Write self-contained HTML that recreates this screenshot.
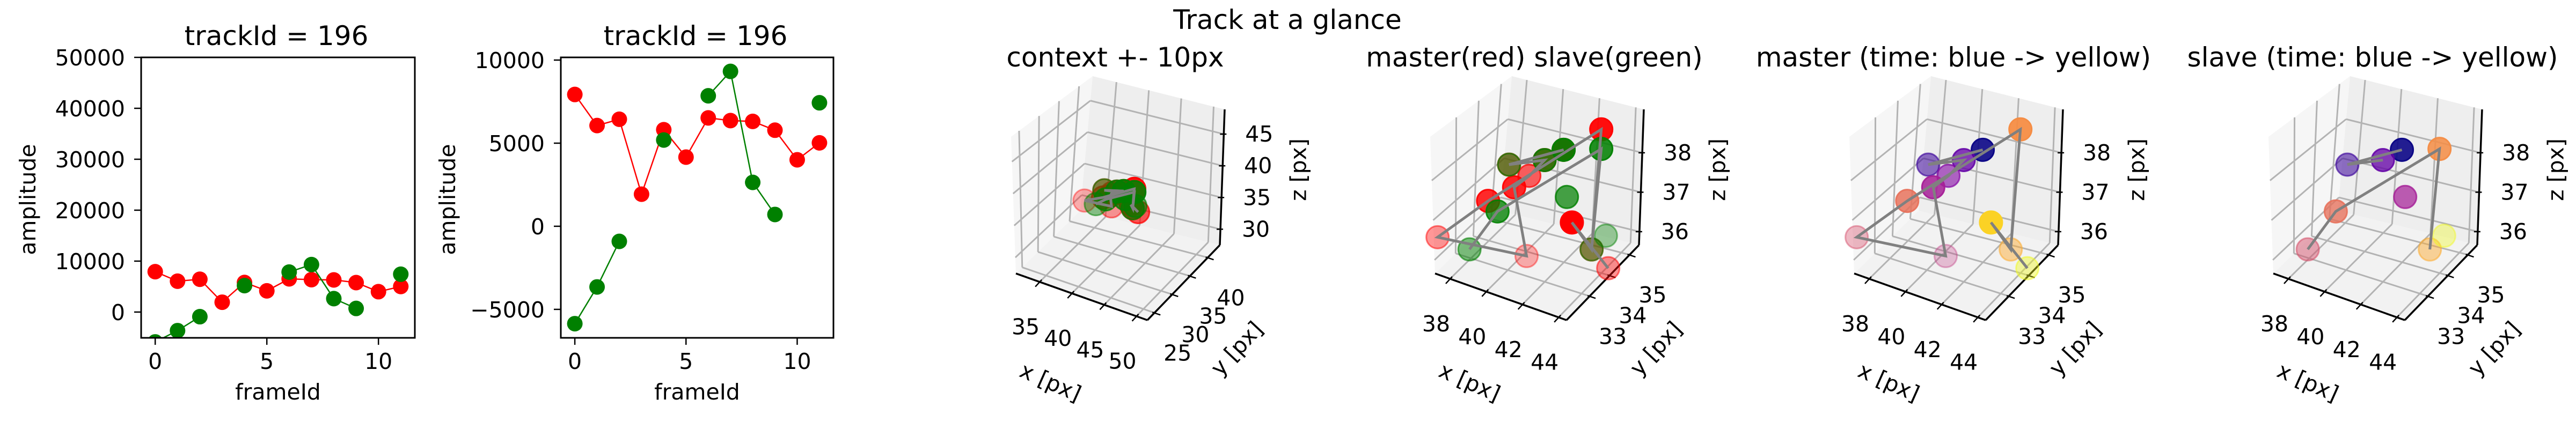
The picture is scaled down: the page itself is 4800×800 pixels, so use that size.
<!DOCTYPE html>
<html><head><meta charset="utf-8"><style>
html,body{margin:0;padding:0;background:#fff;}
svg{display:block;}
text{font-family:"DejaVu Sans","Liberation Sans",sans-serif;fill:#000;}
</style></head><body>
<svg id="fig" xmlns="http://www.w3.org/2000/svg" width="4800" height="800" viewBox="0 0 4800 800">
<rect width="4800" height="800" fill="#fff"/>
<text x="2399" y="54" font-size="50" text-anchor="middle">Track at a glance</text>
</svg>
<script>
// ---- 2D amplitude data ----
const frames = [0,1,2,3,4,5,6,7,8,9,10,11];
const masterAmp = [7930,6060,6440,1930,5810,4160,6520,6360,6310,5780,4000,5020];
const slaveAmp = [-5860,-3650,-910,null,5190,null,7850,9320,2640,710,null,7430];
const xTicks2d = [0,5,10];
const yTicksA = [0,10000,20000,30000,40000,50000];
const yTicksB = [-5000,0,5000,10000];
// ---- 3D track data (px) ----
const masterX = [42.20,39.29,41.19,40.39,40.79,40.53,37.26,40.00,43.39,43.43,43.91,44.15];
const masterY = [33.66,33.66,33.66,33.66,32.57,33.47,31.95,32.02,34.38,34.02,32.57,34.20];
const masterZ = [38.70,37.92,38.30,37.79,38.07,35.87,36.54,37.86,39.02,36.17,37.66,35.70];
const slaveX = [42.20,39.29,41.19,null,42.43,null,38.93,40.30,43.42,43.43,null,43.43];
const slaveY = [33.66,33.66,33.66,null,33.66,null,32.02,32.20,34.38,34.02,null,34.74];
const slaveZ = [38.70,37.92,38.30,null,37.54,null,36.47,37.56,38.53,36.17,null,36.15];
const ctxTicksX = [35,40,45,50], ctxTicksY = [25,30,35,40], ctxTicksZ = [30,35,40,45];
const zmTicksX = [38,40,42,44], zmTicksY = [33,34,35], zmTicksZ = [36,37,38];

const NS = "http://www.w3.org/2000/svg";
const svg = document.getElementById('fig');
function el(tag, attrs, parent){const e=document.createElementNS(NS,tag);for(const k in attrs)e.setAttribute(k,attrs[k]);(parent||svg).appendChild(e);return e;}

// ---------- 2D panels ----------
function panel2d(idx, left, right, ylo, yhi, yTicks, titleX){
  const top=107, bottom=630, xlo=-0.63, xhi=11.63;
  const sx=v=>left+(v-xlo)/(xhi-xlo)*(right-left);
  const sy=v=>bottom-(v-ylo)/(yhi-ylo)*(bottom-top);
  const g=el('g',{});
  
  
  const cp=el('clipPath',{id:'clip'+idx},g);
  el('rect',{x:left,y:top,width:right-left,height:bottom-top},cp);
  const t=el('text',{x:titleX,y:84,'font-size':50,'text-anchor':'middle'},g);t.textContent='trackId = 196';
  
  const series=[[masterAmp,'#ff0000','master'],[slaveAmp,'#008000','slave']];
  const plot=el('g',{'clip-path':'url(#clip'+idx+')'},g);
  series.forEach(([vals,col,nm])=>{
    let seg=[];
    const flush=()=>{if(seg.length>1){const p=el('polyline',{points:seg.join(' '),fill:'none',stroke:col,'stroke-width':2.5},plot);
      }seg=[];};
    frames.forEach((f,i)=>{const v=vals[i];if(v===null){flush();return;}seg.push(sx(f)+','+sy(v));});
    flush();
    frames.forEach((f,i)=>{const v=vals[i];if(v===null)return;
      const c=el('circle',{cx:sx(f),cy:sy(v),r:14.5,fill:col},plot);
      });
  });
  el('rect',{x:left,y:top,width:right-left,height:bottom-top,fill:'none',stroke:'#000','stroke-width':3},g);
  xTicks2d.forEach(v=>{const x=sx(v);el('line',{x1:x,y1:bottom,x2:x,y2:bottom+13,stroke:'#000','stroke-width':2.5},g);
    const tx=el('text',{x:x,y:688,'font-size':41,'text-anchor':'middle'},g);tx.textContent=v;
    });
  yTicks.forEach(v=>{const y=sy(v);el('line',{x1:left,y1:y,x2:left-13,y2:y,stroke:'#000','stroke-width':2.5},g);
    const ty=el('text',{x:left-30,y:y+15,'font-size':41,'text-anchor':'end'},g);ty.textContent=(v<0?'\u2212'+(-v):v);
    });
  const xl=el('text',{x:(left+right)/2,y:745,'font-size':41,'text-anchor':'middle'},g);xl.textContent='frameId';
  
  const yx=left-197;
  const yl=el('text',{x:yx,y:372,'font-size':41,'text-anchor':'middle',transform:'rotate(-90 '+yx+' 372)'},g);yl.textContent='amplitude';
  
}
panel2d(1,263,773,-5063,50000,yTicksA,515);
panel2d(2,1045,1553,-6713,10162,yTicksB,1296);

// ---------- 3D panels ----------
const C = {p000:[1893,510],p100:[2138,597],p110:[2273,457],p010:[2013,393],
           p001:[1884,255],p101:[2138,342],p111:[2282,204],p011:[2036,142]};
function tri(off,u,v,w){
  const L=(a,b,t)=>[a[0]+(b[0]-a[0])*t,a[1]+(b[1]-a[1])*t];
  const f0=L(L(C.p000,C.p100,u),L(C.p010,C.p110,u),v);
  const f1=L(L(C.p001,C.p101,u),L(C.p011,C.p111,u),v);
  const p=L(f0,f1,w);return [p[0]+off,p[1]];
}
const plasma=['#0d0887','#41049d','#6a00a8','#8f0da4','#b12a90','#cc4778','#e16462','#f2844b','#fca636','#fcce25','#f0f921'];
function hex(h){return [1,3,5].map(i=>parseInt(h.substr(i,2),16));}
function plasmaAt(t){const s=t*10,i=Math.min(9,Math.floor(s)),f=s-i,a=hex(plasma[i]),b=hex(plasma[i+1]);
  return 'rgb('+a.map((c,k)=>Math.round(c+(b[k]-c)*f)).join(',')+')';}

function panel3d(idx,off,title,lim,ticks,mode){
  const [xl,yl,zl]=lim;
  const U=x=>(x-xl[0])/(xl[1]-xl[0]),V=y=>(y-yl[0])/(yl[1]-yl[0]),W=z=>(z-zl[0])/(zl[1]-zl[0]);
  const P=(u,v,w)=>tri(off,u,v,w);
  const g=el('g',{});
  
  
  const tt=el('text',{x:2078+off,y:124,'font-size':50,'text-anchor':'middle'},g);tt.textContent=title;
  
  const poly=(pts,fill,nm)=>{const p=el('polygon',{points:pts.map(q=>q.join(',')).join(' '),fill:fill},g);
    };
  poly([P(0,0,0),P(0,1,0),P(0,1,1),P(0,0,1)],'#f6f6f6','yz-pane');
  poly([P(0,1,0),P(1,1,0),P(1,1,1),P(0,1,1)],'#eeeeee','xz-pane');
  poly([P(0,0,0),P(1,0,0),P(1,1,0),P(0,1,0)],'#f2f2f2','floor-pane');
  const ln=(a,b,col,wd)=>el('line',{x1:a[0],y1:a[1],x2:b[0],y2:b[1],stroke:col,'stroke-width':wd,'stroke-linecap':'butt'},g);
  const gc='#b3b3b3';
  ticks[0].forEach(t=>{const u=U(t);ln(P(u,0,0),P(u,1,0),gc,3);ln(P(u,1,0),P(u,1,1),gc,3);});
  ticks[1].forEach(t=>{const v=V(t);ln(P(0,v,0),P(1,v,0),gc,3);ln(P(0,v,0),P(0,v,1),gc,3);});
  ticks[2].forEach(t=>{const w=W(t);ln(P(0,0,w),P(0,1,w),gc,3);ln(P(0,1,w),P(1,1,w),gc,3);});
  ln(P(0,0,0),P(1,0,0),'#000',3.5);ln(P(1,0,0),P(1,1,0),'#000',3.5);ln(P(1,1,0),P(1,1,1),'#000',3.5);
  const lab=(x,y,s,nm,extra)=>{const t=el('text',Object.assign({x:x,y:y,'font-size':41,'text-anchor':'middle','dominant-baseline':'central'},extra||{}),g);t.textContent=s;
    };
  ticks[0].forEach(t=>{const p=P(U(t),0,0);ln([p[0]+4,p[1]-4],[p[0]-8,p[1]+9],'#000',2.5);lab(p[0]-26,p[1]+84,t,'x-tick-label');});
  ticks[1].forEach(t=>{const p=P(1,V(t),0);ln([p[0]-4,p[1]-1],[p[0]+11,p[1]+4],'#000',2.5);lab(p[0]+43,p[1]+75,t,'y-tick-label');});
  ticks[2].forEach(t=>{const p=P(1,1,W(t));ln([p[0]-7,p[1]],[p[0]+5,p[1]],'#000',2.5);lab(p[0]+66,p[1],t,'z-tick-label');});
  const xm=P(0.5,0,0),ym=P(1,0.5,0),zm=P(1,1,0.5);
  lab(xm[0]-58,xm[1]+159,'x [px]','x-axis-title',{transform:'rotate(24 '+(xm[0]-58)+' '+(xm[1]+159)+')'});
  lab(ym[0]+99,ym[1]+123,'y [px]','y-axis-title',{transform:'rotate(-47 '+(ym[0]+99)+' '+(ym[1]+123)+')'});
  lab(zm[0]+142,zm[1]-14,'z [px]','z-axis-title',{transform:'rotate(-90 '+(zm[0]+142)+' '+(zm[1]-14)+')'});

  // depth shading (nearer = more opaque)
  const uvw=(X,Y,Z,i)=>[U(X[i]),V(Y[i]),W(Z[i])];
  const nearness=q=>0.6*q[2]+0.5*q[0]-0.5*q[1];
  const all=[];
  [[masterX,masterY,masterZ],[slaveX,slaveY,slaveZ]].forEach(([X,Y,Z])=>X.forEach((x,i)=>{if(x!==null)all.push(nearness(uvw(X,Y,Z,i)));}));
  const nmin=Math.min(...all),nmax=Math.max(...all);
  const alphaOf=q=>0.3+0.7*(nearness(q)-nmin)/(nmax-nmin||1);
  const scatter=(X,Y,Z,nm,colFn)=>{X.forEach((x,i)=>{if(x===null)return;const q=uvw(X,Y,Z,i);const p=P(q[0],q[1],q[2]);
    const c=el('circle',{cx:p[0],cy:p[1],r:21,fill:colFn(i),stroke:colFn(i),'stroke-width':3,'fill-opacity':alphaOf(q),'stroke-opacity':Math.min(1,alphaOf(q)+0.1)},g);
    });};
  const track=(X,Y,Z,nm)=>{let seg=[];const flush=()=>{if(seg.length>1){const pl=el('polyline',{points:seg.join(' '),fill:'none',stroke:'#808080','stroke-width':5,'stroke-linejoin':'miter'},g);
      }seg=[];};
    X.forEach((x,i)=>{if(x===null){flush();return;}const p=P(U(x),V(Y[i]),W(Z[i]));seg.push(p[0]+','+p[1]);});flush();};
  const tc=i=>plasmaAt(i/(frames.length-1));
  if(mode==='both'){
    scatter(masterX,masterY,masterZ,'master',()=>'#ff0000');
    scatter(slaveX,slaveY,slaveZ,'slave',()=>'#008000');
    track(masterX,masterY,masterZ,'master');track(slaveX,slaveY,slaveZ,'slave');
  } else if(mode==='master'){
    scatter(masterX,masterY,masterZ,'master',tc);track(masterX,masterY,masterZ,'master');
  } else {
    scatter(slaveX,slaveY,slaveZ,'slave',tc);track(slaveX,slaveY,slaveZ,'slave');
  }
}
const ctxLim=[[31.33,51.7],[23.0,43.4],[27.5,48.9]];
const zmLim=[[37.17,44.44],[31.84,35.47],[35.66,39.1]];
panel3d(3,0,'context +- 10px',ctxLim,[ctxTicksX,ctxTicksY,ctxTicksZ],'both');
panel3d(4,781,'master(red) slave(green)',zmLim,[zmTicksX,zmTicksY,zmTicksZ],'both');
panel3d(5,1562,'master (time: blue -> yellow)',zmLim,[zmTicksX,zmTicksY,zmTicksZ],'master');
panel3d(6,2343,'slave (time: blue -> yellow)',zmLim,[zmTicksX,zmTicksY,zmTicksZ],'slave');
</script>
</body></html>
